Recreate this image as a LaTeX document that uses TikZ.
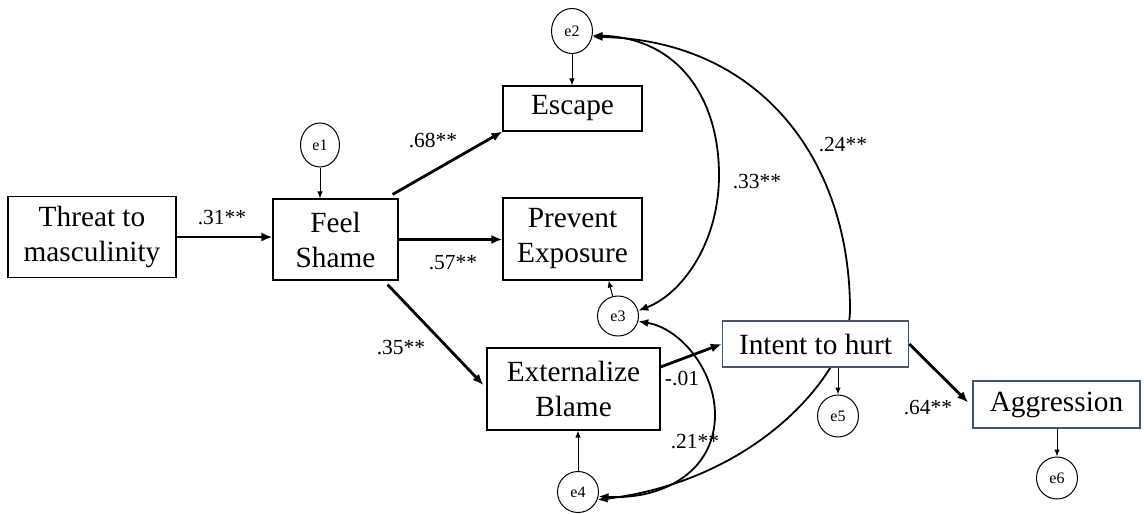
\documentclass[tikz,border=0pt]{standalone}
\usepackage{fontspec}
\setmainfont{Liberation Serif}
\usetikzlibrary{arrows.meta,shapes.geometric}
\definecolor{slateframe}{RGB}{68,84,106}
\begin{document}
\begin{tikzpicture}[x=1pt,y=-1pt,
  box/.style={draw=black,line width=1.1pt,fill=white,inner sep=0pt,align=center,
    font=\fontsize{29.3}{35}\selectfont},
  bluebox/.style={box,draw=slateframe,line width=1.6pt},
  err/.style={draw=black,line width=1pt,ellipse,fill=white,inner sep=0pt,
    font=\fontsize{16}{18}\selectfont},
  coef/.style={inner sep=0pt,font=\fontsize{21.5}{24}\selectfont},
  path/.style={line width=2.8pt,-{Latex[length=11pt,width=9pt]}},
  resid/.style={line width=1pt,-{Latex[length=7pt,width=5.5pt]}},
  covar/.style={line width=1.8pt,{Latex[length=10pt,width=8pt]}-{Latex[length=10pt,width=8pt]}}
]
\useasboundingbox (0,0) rectangle (1144,514);

% observed variables
\node[box,minimum width=168pt,minimum height=81pt] (th) at (92,237) {Threat to\\masculinity};
\node[box,minimum width=125pt,minimum height=81pt] (fs) at (335.5,239.5) {Feel\\Shame};
\node[box,minimum width=139pt,minimum height=45pt] (esc) at (572.5,108.5) {Escape};
\node[box,minimum width=139pt,minimum height=82pt] (pe) at (572.5,239) {Prevent\\Exposure};
\node[box,minimum width=173pt,minimum height=82pt] (eb) at (573.5,389) {Externalize\\Blame};
\node[bluebox,minimum width=186pt,minimum height=46pt] (it) at (815.5,344) {Intent to hurt};
\node[bluebox,minimum width=167pt,minimum height=47pt] (ag) at (1056.5,404.5) {Aggression};

% error terms
\node[err,minimum width=39pt,minimum height=44pt] (e1) at (320,145) {e1};
\node[err,minimum width=41pt,minimum height=45pt] (e2) at (572,31) {e2};
\node[err,minimum width=41pt,minimum height=40pt] (e3) at (618,316) {e3};
\node[err,minimum width=41pt,minimum height=41pt] (e4) at (578,492) {e4};
\node[err,minimum width=41pt,minimum height=42pt] (e5) at (838,416) {e5};
\node[err,minimum width=41pt,minimum height=42pt] (e6) at (1057,478) {e6};

% covariances between residuals
\draw[covar] (e2.-12) .. controls (680,38) and (719,100) .. (719,175)
  .. controls (719,245) and (680,295) .. (e3.15);
\draw[covar] (e2.-16) .. controls (760,40) and (850,160) .. (850,310)
  .. controls (850,370) and (760,480) .. (e4.-22);
\draw[covar] (e3.-15) .. controls (680,328) and (715,370) .. (715,415)
  .. controls (715,470) and (665,500) .. (e4.-12);

% redraw the box that the long covariance passes behind
\node[bluebox,minimum width=186pt,minimum height=46pt] at (it) {Intent to hurt};

% structural paths
\draw[path] (th.east) -- (th.east -| fs.west);
\draw[path] ([shift={(-6,-4)}]fs.north east) -- (esc.south west);
\draw[path] (fs.east) -- (fs.east -| pe.west);
\draw[path] ([shift={(-11,4)}]fs.south east) -- ([shift={(-3,-4)}]eb.west);
\draw[path] ([shift={(0,-22)}]eb.east) -- (it.west);
\draw[path] (it.east) -- ([shift={(-4,-2)}]ag.west);

% residual paths
\draw[resid] (e1.south) -- (fs.north -| e1.south);
\draw[resid] (e2.south) -- (esc.north -| e2.south);
\draw[resid] (e3.105) -- ([shift={(-34,0)}]pe.south east);
\draw[resid] (e4.north) -- (eb.south -| e4.north);
\draw[resid] (it.south -| e5.north) -- (e5.north);
\draw[resid] (ag.south -| e6.north) -- (e6.north);

% coefficients
\node[coef] (c1) at (222,218) {.31**};
\node[coef] (c2) at (433,141) {.68**};
\node[coef] (c3) at (453,263) {.57**};
\node[coef] (c4) at (401,348) {.35**};
\node[coef] (c5) at (757,182) {.33**};
\node[coef] (c6) at (843,145) {.24**};
\node[coef] (c7) at (682,378) {-.01};
\node[coef] (c8) at (695,442) {.21**};
\node[coef] (c9) at (928,408) {.64**};
\end{tikzpicture}
\end{document}
